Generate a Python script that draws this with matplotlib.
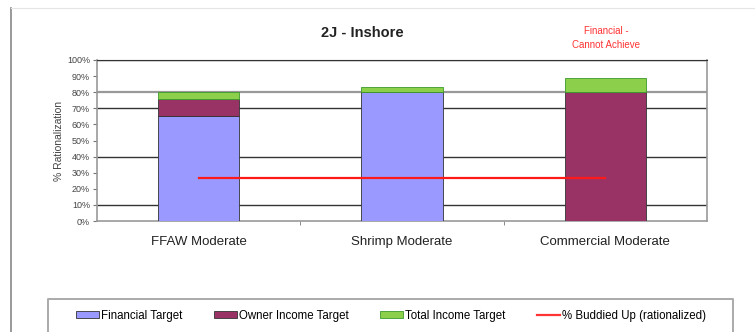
import matplotlib.pyplot as plt
import numpy as np
from matplotlib.patches import Patch
from matplotlib.lines import Line2D

plt.rcParams['font.family'] = ['Liberation Sans', 'DejaVu Sans']

categories = ['FFAW Moderate', 'Shrimp Moderate', 'Commercial Moderate']
financial = [0.65, 0.80, 0.00]
owner_income = [0.11, 0.00, 0.80]
total_income = [0.04, 0.03, 0.09]
buddied_up = [0.27, 0.27, 0.27]
y_ticks = [0.0, 0.1, 0.2, 0.3, 0.4, 0.5, 0.6, 0.7, 0.8, 0.9, 1.0]

c_fin = '#9999ff'
c_own = '#993366'
c_tot = '#8ccf4a'

fig = plt.figure(figsize=(7.55, 3.32), dpi=100)
ax = fig.add_axes([0.1285, 0.3343, 0.808, 0.485])

x = np.arange(len(categories))
w = 0.4
ax.bar(x, financial, w, color=c_fin, edgecolor='#333333', linewidth=0.6, zorder=3)
ax.bar(x, owner_income, w, bottom=financial, color=c_own, edgecolor='#333333', linewidth=0.6, zorder=3)
base = np.array(financial) + np.array(owner_income)
ax.bar(x, total_income, w, bottom=base, color=c_tot, edgecolor='#3a9a2a', linewidth=0.6, zorder=3)
ax.plot(x, buddied_up, color='#ff1a1a', linewidth=1.6, zorder=4)

# horizontal rules
for yv in [0.1, 0.4, 0.7, 1.0]:
    ax.axhline(yv, color='#333333', linewidth=1.0, zorder=1)
ax.axhline(0.8, color='#999999', linewidth=1.6, zorder=1)

ax.set_xlim(-0.5, 2.5)
ax.set_ylim(0, 1.0)
ax.set_yticks(y_ticks)
ax.set_yticklabels(['%d%%' % round(v * 100) for v in y_ticks], fontsize=6.5, color='#444444')
ax.set_xticks(x)
ax.set_xticklabels(categories, fontsize=9.5, color='#222222')
ax.set_xticks([0.5, 1.5], minor=True)
ax.tick_params(axis='x', which='major', length=0, pad=11)
ax.tick_params(axis='x', which='minor', length=3, color='#777777')
ax.tick_params(axis='y', length=3, color='#777777', pad=2)
for s in ['left', 'bottom', 'right']:
    ax.spines[s].set_color('#999999')
    ax.spines[s].set_linewidth(1.2)
ax.spines['top'].set_color('#333333')
ax.set_ylabel('% Rationalization', fontsize=7.5, color='#444444', labelpad=2)

fig.text(0.48, 0.90, '2J - Inshore', fontsize=10.5, fontweight='bold', ha='center', va='center', color='#222222')
fig.text(0.803, 0.887, 'Financial -\nCannot Achieve', fontsize=7, color='#ff3333',
         ha='center', va='center', linespacing=1.5)

# outer frame lines
fig.add_artist(Line2D([0.014, 0.014], [0.0, 0.975], color='#888888', linewidth=1.2))
fig.add_artist(Line2D([0.014, 1.0], [0.975, 0.975], color='#e4e4e4', linewidth=0.8))

# legend box, open at the bottom
lx0, lx1, ly0, ly1 = 0.064, 0.971, 0.0, 0.10
fig.add_artist(Line2D([lx0, lx0, lx1, lx1], [ly0, ly1, ly1, ly0], color='#aaaaaa', linewidth=1.4))

handles = [Patch(facecolor=c_fin, edgecolor='#333333', linewidth=0.6),
           Patch(facecolor=c_own, edgecolor='#333333', linewidth=0.6),
           Patch(facecolor=c_tot, edgecolor='#3a9a2a', linewidth=0.6),
           Line2D([0], [0], color='#ff3333', linewidth=1.6)]
labels = ['Financial Target', 'Owner Income Target', 'Total Income Target', '% Buddied Up (rationalized)']
fig.legend(handles, labels, loc='center', bbox_to_anchor=(0.518, 0.049), ncol=4, frameon=False,
           fontsize=8.3, handlelength=2.0, handleheight=0.6, handletextpad=0.2, columnspacing=2.7)

fig.savefig('out.png', dpi=100)
